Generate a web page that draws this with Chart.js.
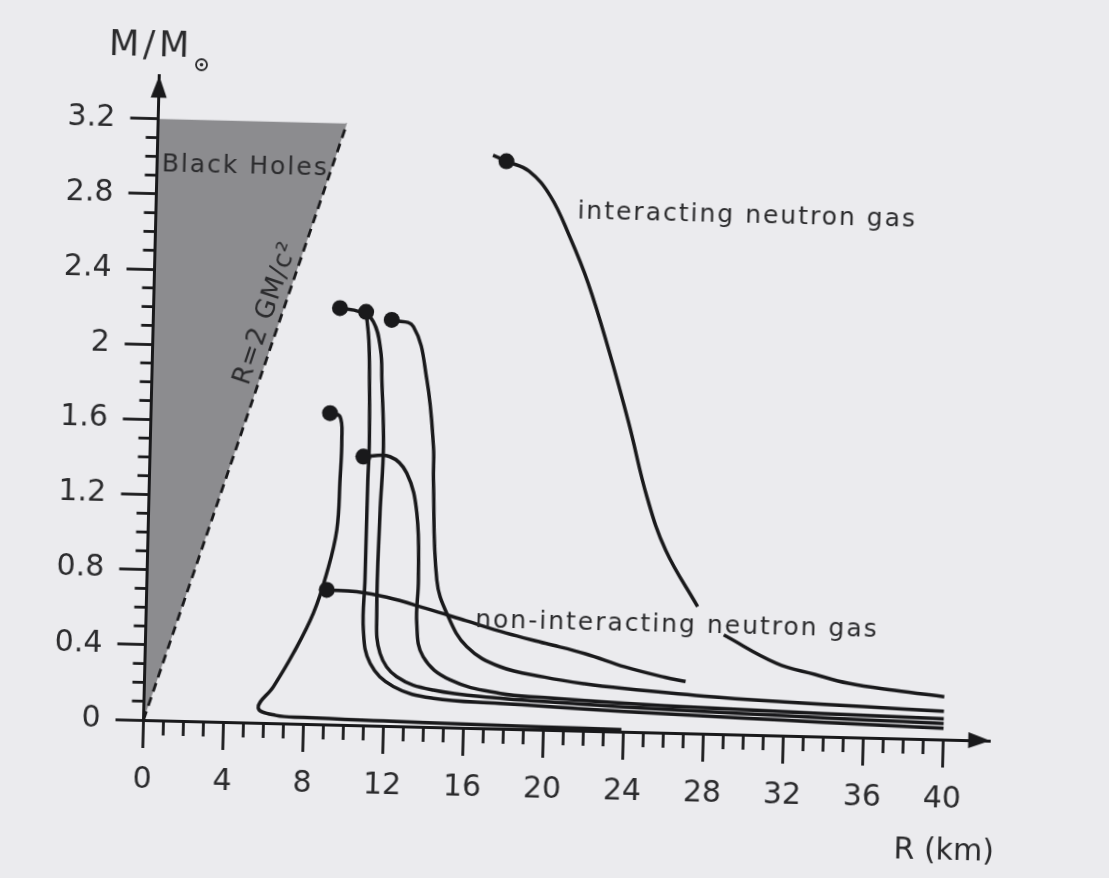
<!DOCTYPE html>
<html>
<head>
<meta charset="utf-8">
<title>Mass-radius relation of neutron stars</title>
<script src="https://cdn.jsdelivr.net/npm/chart.js@4.4.0/dist/chart.umd.min.js"></script>
<style>
  html, body { margin: 0; padding: 0; background: #ebebee; overflow: hidden; }
  #wrap { position: absolute; left: 0; top: 0; width: 1109px; height: 878px;
          transform: rotate(1.4deg); transform-origin: 143.5px 720px; }
</style>
</head>
<body>
<div id="wrap"><canvas id="massRadius" width="1109" height="878"></canvas></div>
<script>
// tick labels
const rTicks = [0, 4, 8, 12, 16, 20, 24, 28, 32, 36, 40];
const mTicks = [0, 0.4, 0.8, 1.2, 1.6, 2, 2.4, 2.8, 3.2];

// R = 2GM/c^2 limit and the black hole wedge above it
const limitR = [0, 9.44];
const limitM = [0, 3.2];
const wedgeTop = [3.2, 3.2];

// maximum-mass points (dots)
const dotR = [17.46, 9.32, 10.63, 11.92, 8.95, 10.67, 9.0];
const dotM = [3.02, 2.217, 2.2, 2.161, 1.657, 1.43, 0.716];

// interacting neutron gas (null = break under the label)
const interR = [16.78, 17.46, 18.6, 19.7, 20.7, 21.7, 22.8, 23.9, 24.9, 25.9, 27.56, null, 28.9, 31.57, 33.5, 35.18, 37.5, 40.0];
const interM = [3.05, 3.02, 2.97, 2.84, 2.63, 2.38, 2.03, 1.64, 1.25, 0.97, 0.675, null, 0.528, 0.384, 0.33, 0.287, 0.255, 0.228];

// non-interacting neutron gas
const freeR = [9.0, 10.5, 12, 14, 16, 18, 20, 22, 24, 26, 27.05];
const freeM = [0.716, 0.71, 0.685, 0.63, 0.57, 0.51, 0.46, 0.41, 0.345, 0.295, 0.275];

// other equations of state
const aR = [8.95, 9.45, 9.57, 9.53, 9.43, 8.98, 8.36, 7.41, 6.45, 5.72, 6.6, 8.0, 12, 16, 20, 23.9];
const aM = [1.657, 1.64, 1.516, 1.303, 1.036, 0.805, 0.59, 0.375, 0.194, 0.08, 0.042, 0.034, 0.026, 0.02, 0.015, 0.011];

const bR = [9.32, 10.3, 11.0, 11.4, 11.5, 11.66, 11.57, 11.53, 11.74, 12.6, 14.45, 17.8, 20, 24, 28, 32, 36, 40];
const bM = [2.217, 2.2, 2.15, 2.0, 1.84, 1.486, 1.131, 0.598, 0.386, 0.263, 0.197, 0.162, 0.15, 0.132, 0.118, 0.106, 0.095, 0.085];

const cR = [10.63, 10.8, 10.88, 10.95, 10.92, 10.9, 10.88, 11.26, 12.45, 14.46, 17.8, 20, 24, 28, 32, 36, 40];
const cM = [2.2, 2.05, 1.84, 1.5, 1.3, 0.774, 0.508, 0.331, 0.21, 0.153, 0.135, 0.125, 0.108, 0.094, 0.082, 0.07, 0.06];

const dR = [11.92, 13.01, 13.75, 14.16, 14.2, 14.49, 15.03, 16.07, 17.76, 20, 22, 24, 28, 32, 36, 40];
const dM = [2.161, 2.128, 1.846, 1.492, 1.315, 0.783, 0.607, 0.432, 0.33, 0.28, 0.25, 0.23, 0.2, 0.18, 0.165, 0.15];

const eR = [10.67, 12.0, 12.86, 13.41, 13.57, 13.54, 13.9, 15.28, 17.8, 20, 24, 28, 32, 36, 40];
const eM = [1.43, 1.433, 1.347, 1.136, 0.781, 0.55, 0.373, 0.253, 0.188, 0.172, 0.152, 0.138, 0.128, 0.118, 0.11];

const ink = '#19191b';
const textInk = '#2b2b2d';
const face = '"DejaVu Sans", sans-serif';

function points(rs, ms) {
    return rs.map((r, i) => (r === null ? { x: null, y: null } : { x: r, y: ms[i] }));
}

function curve(rs, ms, extra) {
    return Object.assign({
        data: points(rs, ms),
        showLine: true,
        borderColor: ink,
        borderWidth: 3.5,
        pointRadius: 0,
        tension: 0.4,
        fill: false
    }, extra);
}

function seg(ctx, x1, y1, x2, y2) {
    ctx.beginPath();
    ctx.moveTo(x1, y1);
    ctx.lineTo(x2, y2);
    ctx.stroke();
}

// minor ticks, arrowheads and the text in the plot
const decorations = {
    id: 'decorations',
    afterDatasetsDraw(chart) {
        const { ctx, chartArea: area, scales: { x, y } } = chart;
        ctx.save();
        ctx.strokeStyle = ink;
        ctx.fillStyle = ink;
        ctx.lineWidth = 2.8;

        for (let r = 1; r < 40; r++) {
            if (r % 4 === 0) continue;
            const px = x.getPixelForValue(r);
            seg(ctx, px, area.bottom, px, area.bottom + 15);
        }
        for (let k = 1; k < 32; k++) {
            if (k % 4 === 0) continue;
            const py = y.getPixelForValue(k / 10);
            seg(ctx, area.left - 12, py, area.left, py);
        }

        // y axis over the grey wedge
        ctx.lineWidth = 3;
        seg(ctx, area.left, area.bottom, area.left, area.top + 12);

        ctx.beginPath();
        ctx.moveTo(area.left, area.top);
        ctx.lineTo(area.left - 8, area.top + 22);
        ctx.lineTo(area.left + 8, area.top + 22);
        ctx.closePath();
        ctx.fill();

        ctx.beginPath();
        ctx.moveTo(area.right, area.bottom);
        ctx.lineTo(area.right - 22, area.bottom - 8);
        ctx.lineTo(area.right - 22, area.bottom + 8);
        ctx.closePath();
        ctx.fill();

        ctx.fillStyle = textInk;
        ctx.letterSpacing = '2px';
        ctx.font = '25px ' + face;
        ctx.textBaseline = 'alphabetic';

        ctx.textAlign = 'center';
        ctx.fillText('Black Holes', x.getPixelForValue(4.41), y.getPixelForValue(2.92));

        ctx.textAlign = 'left';
        ctx.fillText('interacting neutron gas', x.getPixelForValue(21.07), y.getPixelForValue(2.723));
        ctx.fillText('non-interacting neutron gas', x.getPixelForValue(16.46), y.getPixelForValue(0.54));

        // label along the dashed limit
        const x0 = x.getPixelForValue(limitR[0]), y0 = y.getPixelForValue(limitM[0]);
        const x1 = x.getPixelForValue(limitR[1]), y1 = y.getPixelForValue(limitM[1]);
        ctx.save();
        ctx.translate(x.getPixelForValue(5.63), y.getPixelForValue(2.18));
        ctx.rotate(Math.atan2(y1 - y0, x1 - x0));
        ctx.textAlign = 'center';
        ctx.textBaseline = 'middle';
        ctx.letterSpacing = '1px';
        ctx.font = '26px ' + face;
        ctx.fillText('R=2 GM/c²', 0, 0);
        ctx.restore();

        // axis titles
        ctx.letterSpacing = '4px';
        ctx.font = '35px ' + face;
        ctx.textAlign = 'left';
        ctx.fillText('M/M', area.left - 51, area.top - 20);
        ctx.strokeStyle = textInk;
        ctx.lineWidth = 1.8;
        ctx.beginPath();
        ctx.arc(area.left + 42, area.top - 12, 5.5, 0, Math.PI * 2);
        ctx.stroke();
        ctx.beginPath();
        ctx.arc(area.left + 42, area.top - 12, 1.8, 0, Math.PI * 2);
        ctx.fill();

        ctx.letterSpacing = '0px';
        ctx.font = '30px ' + face;
        ctx.textAlign = 'center';
        ctx.textBaseline = 'middle';
        ctx.fillText('R (km)', x.getPixelForValue(40.16), area.bottom + 112);

        ctx.restore();
    }
};

new Chart(document.getElementById('massRadius'), {
    type: 'scatter',
    data: {
        datasets: [
            { data: points(dotR, dotM), pointRadius: 8, pointBackgroundColor: ink, pointBorderWidth: 0, showLine: false },
            curve(limitR, limitM, { borderDash: [9, 6], borderWidth: 2.8, tension: 0 }),
            curve(limitR, wedgeTop, { borderWidth: 0, borderColor: 'transparent', tension: 0, fill: '-1', backgroundColor: '#8c8c8f' }),
            curve(interR, interM),
            curve(freeR, freeM),
            curve(aR, aM),
            curve(bR, bM),
            curve(cR, cM),
            curve(dR, dM),
            curve(eR, eM)
        ]
    },
    options: {
        responsive: false,
        animation: false,
        events: [],
        layout: { padding: { top: 75.5, right: 118.5, left: 0, bottom: 0 } },
        elements: { line: { capBezierPoints: false } },
        plugins: { legend: { display: false }, tooltip: { enabled: false } },
        scales: {
            x: {
                type: 'linear',
                min: 0,
                max: 42.35,
                afterFit: (s) => { s.height = 158; },
                afterBuildTicks: (s) => { s.ticks = rTicks.map((v) => ({ value: v })); },
                grid: { drawOnChartArea: false, tickLength: 28, tickWidth: 2.8, tickColor: ink },
                border: { color: ink, width: 3 },
                ticks: { font: { family: face, size: 30 }, color: textInk, padding: 14, maxRotation: 0, autoSkip: false }
            },
            y: {
                type: 'linear',
                min: 0,
                max: 3.43,
                afterFit: (s) => { s.width = 143.5; },
                afterBuildTicks: (s) => { s.ticks = mTicks.map((v) => ({ value: v })); },
                grid: { drawOnChartArea: false, tickLength: 28, tickWidth: 2.8, tickColor: ink },
                border: { color: ink, width: 3 },
                ticks: {
                    font: { family: face, size: 30 }, color: textInk, padding: 15, autoSkip: false,
                    callback: (v) => String(+v.toFixed(1))
                }
            }
        }
    },
    plugins: [decorations]
});
</script>
</body>
</html>
